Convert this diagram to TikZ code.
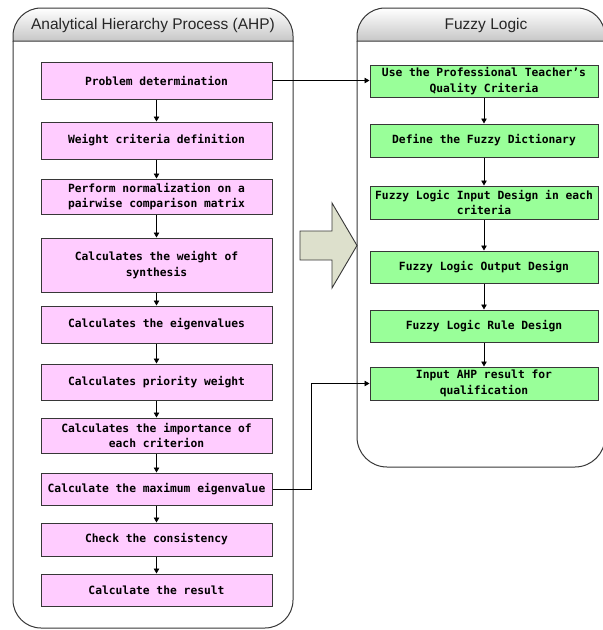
\documentclass[tikz,border=0pt]{standalone}
\usepackage{fontspec}
\setsansfont{Liberation Sans}
\setmonofont{DejaVu Sans Mono}
\usetikzlibrary{arrows.meta}
\definecolor{ahppink}{RGB}{255,204,255}
\definecolor{fuzgreen}{RGB}{153,255,153}
\definecolor{bigarrow}{RGB}{221,224,204}
\definecolor{edge}{RGB}{55,55,55}
\begin{document}
\begin{tikzpicture}[x=1pt, y=1pt,
  ahpbox/.style={draw=edge, line width=1pt, fill=ahppink, minimum width=231pt,
    inner sep=1pt, align=center, font=\ttfamily\bfseries\fontsize{11.3}{15.5}\selectfont},
  fuzbox/.style={ahpbox, fill=fuzgreen, minimum width=228pt},
  flow/.style={-{Triangle[length=5pt,width=5.5pt]}, line width=0.8pt},
  frame/.style={draw=edge, line width=1pt},
  title/.style={font=\sffamily\fontsize{15.5}{18}\selectfont, text=black!85}] % {{{
\useasboundingbox (0,0) rectangle (603,-630);
% AHP frame {{{
\shade[frame, top color=white, bottom color=black!22]
  (13,-41) -- (13,-36) arc[start angle=180, end angle=90, radius=28] -- (265,-8)
  arc[start angle=90, end angle=0, radius=28] -- (293,-41) -- cycle;
\draw[frame, rounded corners=28] (13,-41) -- (13,-628) -- (293,-628) -- (293,-41);
\node[title] (ahp) at (153,-25) {Analytical Hierarchy Process (AHP)};
% }}}
% Fuzzy frame {{{
\begin{scope}[shift={(357,0)}]
\shade[frame, top color=white, bottom color=black!22]
  (0,-41) -- (0,-36) arc[start angle=180, end angle=90, radius=28] -- (220,-8)
  arc[start angle=90, end angle=0, radius=28] -- (248,-41) -- cycle;
\draw[frame, rounded corners=30] (0,-41) -- (0,-467) -- (248,-467) -- (248,-41);
\node[title] (fuz) at (129,-25) {Fuzzy Logic};
\end{scope}
% }}}
% AHP steps {{{
\node[ahpbox, minimum height=37] (pd) at (156.5,-80.5) {Problem determination};
\node[ahpbox, minimum height=37] (wc) at (156.5,-140.5) {Weight criteria definition};
\node[ahpbox, minimum height=35] (pn) at (156.5,-196.5) {Perform normalization on a\\pairwise comparison matrix};
\node[ahpbox, minimum height=54] (ws) at (156.5,-265) {Calculates the weight of\\synthesis};
\node[ahpbox, minimum height=37] (ev) at (156.5,-324.5) {Calculates the eigenvalues};
\node[ahpbox, minimum height=36] (pw) at (156.5,-382) {Calculates priority weight};
\node[ahpbox, minimum height=35] (ic) at (156.5,-435.5) {Calculates the importance of\\each criterion};
\node[ahpbox, minimum height=32] (me) at (156.5,-489) {Calculate the maximum eigenvalue};
\node[ahpbox, minimum height=33] (cc) at (156.5,-539.5) {Check the consistency};
\node[ahpbox, minimum height=32] (cr) at (156.5,-590) {Calculate the result};
\foreach \a/\b in {pd/wc, wc/pn, pn/ws, ws/ev, ev/pw, pw/ic, ic/me, me/cc, cc/cr}
  \draw[flow] (\a.south) -- (\b.north);
% }}}
% Fuzzy steps {{{
\node[fuzbox, minimum height=32] (uq) at (484,-81) {Use the Professional Teacher’s\\Quality Criteria};
\node[fuzbox, minimum height=33] (fd) at (484,-140.5) {Define the Fuzzy Dictionary};
\node[fuzbox, minimum height=33] (fi) at (484,-202.5) {Fuzzy Logic Input Design in each\\criteria};
\node[fuzbox, minimum height=32] (fo) at (484,-267) {Fuzzy Logic Output Design};
\node[fuzbox, minimum height=32] (fr) at (484,-326) {Fuzzy Logic Rule Design};
\node[fuzbox, minimum height=33] (ia) at (484,-383.5) {Input AHP result for\\qualification};
\foreach \a/\b in {uq/fd, fd/fi, fi/fo, fo/fr, fr/ia}
  \draw[flow] (\a.south) -- (\b.north);
% }}}
% links between the two parts {{{
\draw[flow] (pd.east) -- (pd.east -| uq.west);
\draw[flow] (me.east) -- ++(39,0) |- (ia.west);
\draw[draw=edge, line width=0.9pt, fill=bigarrow]
  (300,-231) -- (332,-231) -- (332,-203) -- (357,-245.5) -- (332,-288) -- (332,-260) -- (300,-260) -- cycle;
% }}}
\end{tikzpicture}
\end{document}
